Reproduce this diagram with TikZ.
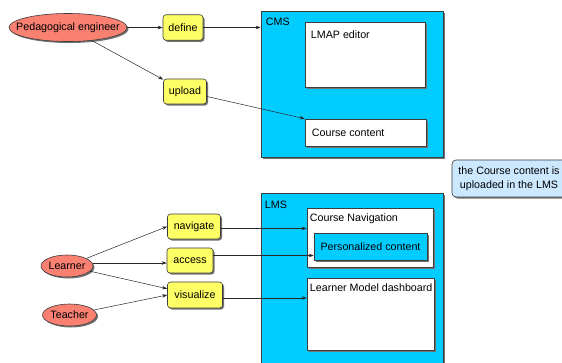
\documentclass[tikz,border=0pt]{standalone}
\usepackage{fontspec}
\setmainfont{Liberation Sans}
\usetikzlibrary{shapes.geometric,shadows,arrows.meta}
\definecolor{salmonc}{RGB}{250,128,114}
\definecolor{yellowc}{RGB}{255,255,102}
\definecolor{cyanc}{RGB}{0,204,255}
\definecolor{notec}{RGB}{204,232,255}
\definecolor{edgec}{RGB}{60,60,60}
\begin{document}
\begin{tikzpicture}[x=1pt,y=-1pt, font=\fontsize{10.7}{12.8}\selectfont,
 shd/.style={drop shadow={shadow xshift=1.5pt,shadow yshift=-1.5pt,fill=black!55,opacity=1}},
 actor/.style={ellipse, draw=edgec, fill=salmonc, line width=0.6pt, inner sep=0pt, shd},
 act/.style={rectangle, rounded corners=3pt, draw=edgec, fill=yellowc, line width=0.6pt, inner sep=0pt, shd},
 sys/.style={rectangle, draw=edgec, fill=cyanc, line width=0.6pt, inner sep=0pt, shd},
 comp/.style={rectangle, draw=edgec, fill=white, line width=0.6pt, inner sep=0pt, shd},
 lbl/.style={anchor=north west, inner sep=0pt},
 arr/.style={draw=black!85, line width=0.5pt, -{Stealth[length=5pt,width=3.5pt]}},
]
\clip (0,0) rectangle (562,362);
\fill[white] (0,0) rectangle (562,362);

% top part
\node[actor, minimum width=118pt, minimum height=28pt] (ped) at (68,27.5) {\makebox[40pt][c]{Pedagogical engineer}};
\node[act, minimum width=40pt, minimum height=25.5pt] (define) at (183,27.5) {define};
\node[act, minimum width=43pt, minimum height=25pt] (upload) at (185,91.5) {upload};
\node[sys, minimum width=182pt, minimum height=146pt] (cms) at (352,84) {};
\node[lbl] (cmsl) at ([xshift=5pt,yshift=-7pt]cms.north west) {CMS};
\node[comp, minimum width=120pt, minimum height=65pt] (lmap) at (365,54.5) {};
\node[lbl] (lmapl) at ([xshift=6pt,yshift=-9pt]lmap.north west) {LMAP editor};
\node[comp, minimum width=121pt, minimum height=27pt] (cc) at (365.5,132.5) {};
\node[anchor=west, inner sep=0pt] (ccl) at ([xshift=7pt]cc.west) {Course content};

% note
\node[rectangle, rounded corners=4pt, draw=edgec, fill=notec, line width=0.6pt, shd,
      minimum width=114pt, minimum height=37pt, align=center, inner sep=0pt,
      font=\fontsize{10.7}{14.5}\selectfont] (note) at (509,178.5)
      {the Course content is\\uploaded in the LMS};

% bottom part
\node[sys, minimum width=182pt, minimum height=190pt] (lms) at (352,288) {};
\node[lbl] (lmsl) at ([xshift=4pt,yshift=-8pt]lms.north west) {LMS};
\node[comp, minimum width=126pt, minimum height=59pt] (cnav) at (370,237.5) {};
\node[lbl] (cnavl) at ([xshift=3pt,yshift=-6pt]cnav.north west) {Course Navigation};
\node[sys, minimum width=113pt, minimum height=27pt] (pers) at (370.5,246.5) {Personalized content};
\node[comp, minimum width=127pt, minimum height=72pt] (lmd) at (370.5,314) {};
\node[lbl] (lmdl) at ([xshift=3pt,yshift=-6pt]lmd.north west) {Learner Model dashboard};

\node[actor, minimum width=52pt, minimum height=22pt] (learner) at (67,266) {\makebox[30pt][c]{Learner}};
\node[actor, minimum width=54pt, minimum height=22pt] (teacher) at (69.5,315) {\makebox[30pt][c]{Teacher}};
\node[act, minimum width=53pt, minimum height=25pt] (navigate) at (194,226.5) {navigate};
\node[act, minimum width=46pt, minimum height=25pt] (access) at (190,260.5) {access};
\node[act, minimum width=55pt, minimum height=26pt] (visualize) at (195,295) {visualize};

% connectors
\draw[arr] (ped) -- (define);
\draw[arr] (define.east) -- (define.east -| cms.west);
\draw[arr] (ped) -- (upload);
\draw[arr] (upload) -- (cc);
\draw[arr] (learner) -- (navigate.west);
\draw[arr] ([yshift=3pt]learner.east) -- ([yshift=3pt]learner.east -| access.west);
\draw[arr] (learner) -- (visualize);
\draw[arr] (teacher) -- (visualize.west);
\draw[arr] ([yshift=-2pt]navigate.east) -- ([yshift=-2pt]navigate.east -| cnav.west);
\draw[arr] ([yshift=5pt]access.east) -- ([yshift=5pt]access.east -| pers.west);
\draw[arr] ([yshift=-3pt]visualize.east) -- ([yshift=-3pt]visualize.east -| lmd.west);
\end{tikzpicture}
\end{document}
